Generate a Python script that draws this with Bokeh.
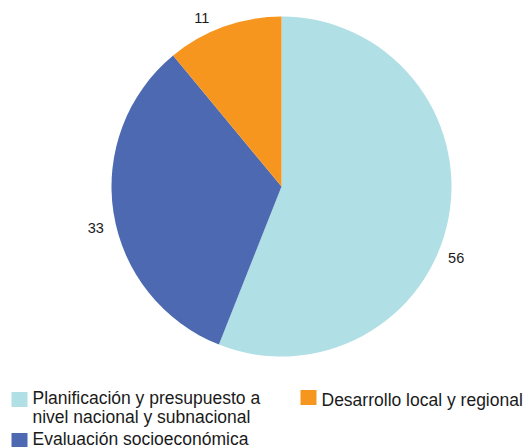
import math
from bokeh.plotting import figure
from bokeh.models import Range1d, ColumnDataSource
from bokeh.core.properties import value
from bokeh.embed import file_html
from bokeh.resources import INLINE

# Data
categories = ["Planificación y presupuesto a\nnivel nacional y subnacional",
              "Evaluación socioeconómica",
              "Desarrollo local y regional"]
values = [56, 33, 11]
colors = ["#B0DFE5", "#4C69B1", "#F7961F"]

W, H = 527, 447
p = figure(width=W, height=H, output_backend="svg", toolbar_location=None,
           x_range=Range1d(0, W), y_range=Range1d(0, H), min_border=0,
           outline_line_color=None)
p.axis.visible = False
p.grid.visible = False
p.background_fill_color = "white"

def sx(x):
    return x
def sy(y):
    return H - y

cx, cy, R = sx(281), sy(186), 170
total = sum(values)
starts, ends, mids = [], [], []
cum = 0
for v in values:
    a0 = math.pi / 2 - 2 * math.pi * cum / total
    cum += v
    a1 = math.pi / 2 - 2 * math.pi * cum / total
    starts.append(a0); ends.append(a1); mids.append((a0 + a1) / 2)

src = ColumnDataSource(dict(x=[cx] * 3, y=[cy] * 3, s=starts, e=ends, c=colors))
p.wedge(x="x", y="y", radius=R, start_angle="s", end_angle="e",
        direction="clock", fill_color="c", line_color=None, source=src)

# value labels
lr = 188
nudge_x = [-10, 0, -16]
nudge_y = [36, 12, 8]
lsrc = ColumnDataSource(dict(
    x=[cx + lr * math.cos(m) for m in mids],
    y=[cy + lr * math.sin(m) for m in mids],
    t=[str(v) for v in values], dx=nudge_x, dy=nudge_y))
p.text(x="x", y="y", text="t", x_offset="dx", y_offset="dy", source=lsrc,
       text_align="center", text_baseline="middle", text_color="#1a1a1a",
       text_font=value("Liberation Sans"), text_font_size="14.5px")

# legend
leg_sq_x = [sx(19), sx(19), sx(308)]
leg_sq_y = [sy(399), sy(440), sy(397)]
leg_tx_x = [sx(32), sx(32), sx(321)]
leg_tx_y = [sy(407), sy(438), sy(399)]
p.rect(x=leg_sq_x, y=leg_sq_y, width=16, height=15, fill_color=colors, line_color=None)
p.text(x=leg_tx_x, y=leg_tx_y, text=categories, text_align="left",
       text_baseline="middle", text_color="#1a1a1a",
       text_font=value("Liberation Sans"), text_font_size="17.5px",
       text_line_height=0.98)

open("out.html", "w").write(file_html(p, INLINE))
